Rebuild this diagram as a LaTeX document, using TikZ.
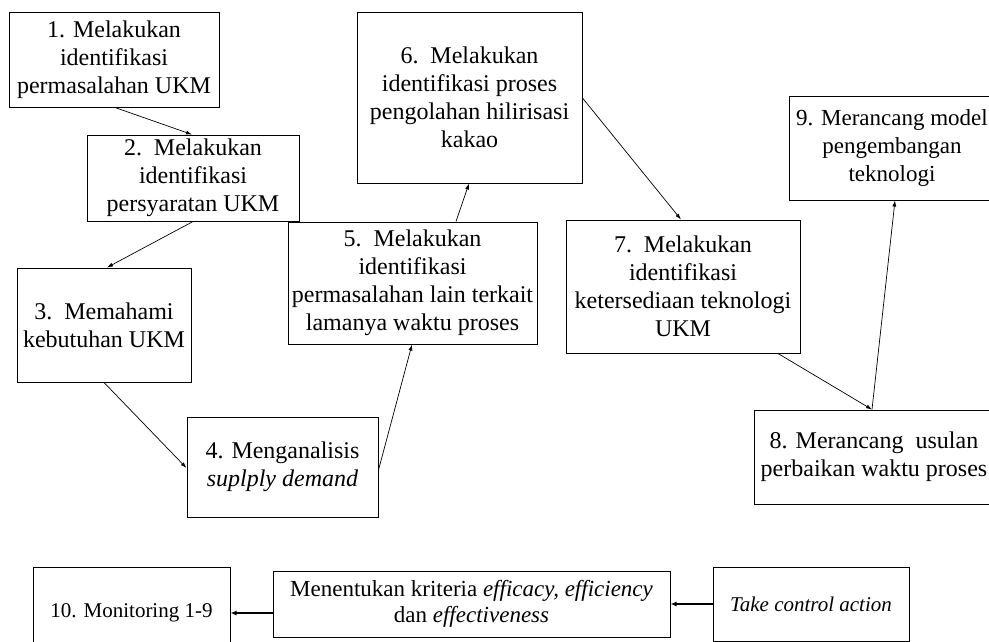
\documentclass[tikz,border=0pt]{standalone}
\usepackage{fontspec}
\setmainfont{Liberation Serif}
\usetikzlibrary{arrows.meta}

\begin{document}
\begin{tikzpicture}[
    x=1pt, y=-1pt,
    mybox/.style={draw, line width=1pt, inner sep=0pt, align=center,
        font=\fontsize{24}{28}\selectfont},
    lowbox/.style={mybox, font=\fontsize{21}{25}\selectfont},
    myarrow/.style={draw, line width=0.7pt, -{Latex[length=6pt, width=4pt]}},
    lowarrow/.style={draw, line width=1.4pt, -{Latex[length=6pt, width=5pt]}},
    ]
\useasboundingbox (0,0) rectangle (989,641);

\node[mybox, minimum width=210, minimum height=95] (b1) at (114,59.5)
    {1. Melakukan\\identifikasi\\permasalahan UKM};
\node[mybox, minimum width=212, minimum height=86] (b2) at (193,178)
    {2.\ \ Melakukan\\identifikasi\\persyaratan UKM};
\node[mybox, minimum width=174, minimum height=114] (b3) at (104,325)
    {3.\ \ Memahami\\kebutuhan UKM};
\node[mybox, minimum width=191, minimum height=100] (b4) at (282.5,467)
    {4. Menganalisis\\\textit{suplply demand}};
\node[mybox, minimum width=249, minimum height=122] (b5) at (412.5,283)
    {5.\ \ Melakukan\\identifikasi\\permasalahan lain terkait\\lamanya waktu proses};
\node[mybox, minimum width=225, minimum height=171] (b6) at (469.5,97.5)
    {6.\ \ Melakukan\\identifikasi proses\\pengolahan hilirisasi\\kakao};
\node[mybox, minimum width=234, minimum height=133] (b7) at (683,286.5)
    {7.\ \ Melakukan\\identifikasi\\ketersediaan teknologi\\UKM};
\node[mybox, minimum width=240, minimum height=94] (b8) at (874,457)
    {8. Merancang\ \ usulan\\perbaikan waktu proses};
\node[mybox, minimum width=206, minimum height=104,
    font=\fontsize{23}{28}\selectfont] (b9) at (892,148)
    {9. Merancang model\\pengembangan\\teknologi};

% bottom row
\node[lowbox, minimum width=197, minimum height=92] (mon) at (131.5,613)
    {10. Monitoring 1-9};
\node[lowbox, minimum width=397, minimum height=66,
    font=\fontsize{23}{26}\selectfont] (men) at (471.5,604)
    {Menentukan kriteria \textit{efficacy, efficiency}\\dan \textit{effectiveness}};
\node[lowbox, minimum width=196, minimum height=74] (act) at (811,604)
    {\textit{Take control action}};

\draw[myarrow] (b1.south -| 115,0) -- (b2.north -| 192,0);
\draw[myarrow] (b2.south -| 193,0) -- (b3.north -| 107,0);
\draw[myarrow] (b3.south -| 104,0) -- (b4.west |- 0,468);
\draw[myarrow] (b4.east |- 0,470) -- (b5.south -| 412,0);
\draw[myarrow] (b5.north -| 456,0) -- (b6.south -| 469,0);
\draw[myarrow] (b6.east |- 0,98) -- (b7.north -| 681,0);
\draw[myarrow] (b7.south -| 778,0) -- (b8.north -| 872,0);
\draw[myarrow] (b8.north -| 872,0) -- (b9.south -| 895,0);

\draw[lowarrow] (act.west) -- (men.east);
\draw[lowarrow] (men.west |- 0,613) -- (mon.east |- 0,613);
\end{tikzpicture}
\end{document}
